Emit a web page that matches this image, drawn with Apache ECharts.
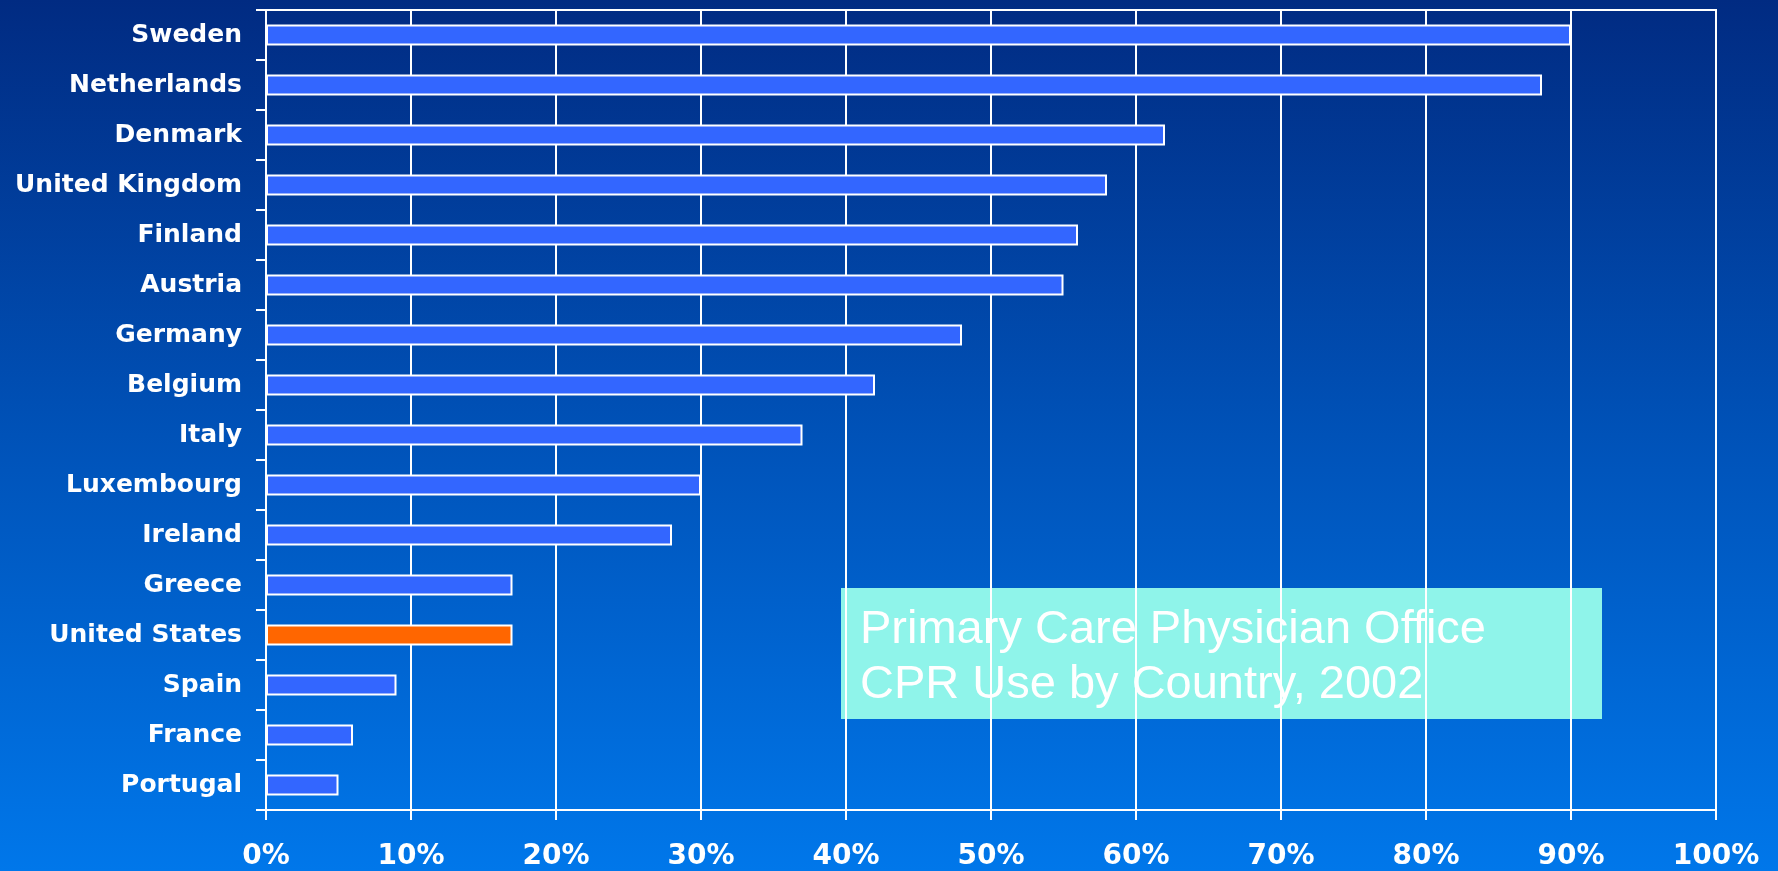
<!DOCTYPE html>
<html><head><meta charset="utf-8">
<script src="https://cdn.jsdelivr.net/npm/echarts@6/dist/echarts.min.js"></script>
<style>html,body{margin:0;padding:0;width:1778px;height:871px;overflow:hidden}#c{width:1778px;height:871px}</style>
</head><body><div id="c"></div>
<script>
const countries = ['Sweden','Netherlands','Denmark','United Kingdom','Finland','Austria','Germany','Belgium','Italy','Luxembourg','Ireland','Greece','United States','Spain','France','Portugal'];
const values = [90,88,62,58,56,55,48,42,37,30,28,17,17,9,6,5];
const highlighted = ['United States'];
const xMin = 0, xMax = 100, xStep = 10;
const titleLines = ['Primary Care Physician Office', 'CPR Use by Country, 2002'];

const chart = echarts.init(document.getElementById('c'));
const labelFont = "'DejaVu Sans', Verdana, sans-serif";
chart.setOption({
  backgroundColor: {type:'linear', x:0, y:0, x2:0, y2:1, colorStops:[{offset:0,color:'#012b82'},{offset:0.5,color:'#0052b8'},{offset:1,color:'#0077ea'}]},
  animation: false,
  grid: {left: 266, right: 62, top: 10, bottom: 60, show: true, borderColor: '#ffffff', borderWidth: 2, backgroundColor: 'transparent'},
  xAxis: {
    type: 'value', min: xMin, max: xMax, interval: xStep,
    axisLine: {show: true, lineStyle: {color: '#fff', width: 2}},
    axisTick: {show: true, length: 10, lineStyle: {color: '#fff', width: 2}},
    splitLine: {show: true, lineStyle: {color: '#fff', width: 2}},
    axisLabel: {color: '#fff', fontWeight: 'bold', fontSize: 28, fontFamily: labelFont, margin: 33, formatter: '{value}%'}
  },
  yAxis: {
    type: 'category', data: countries, inverse: true,
    axisLine: {show: true, lineStyle: {color: '#fff', width: 2}},
    axisTick: {show: true, length: 10, alignWithLabel: false, lineStyle: {color: '#fff', width: 2}},
    axisLabel: {color: '#fff', fontWeight: 'bold', fontSize: 25, fontFamily: labelFont, margin: 24}
  },
  series: [{
    type: 'bar', barWidth: 21,
    data: values.map((v, i) => ({value: v, itemStyle: {color: highlighted.includes(countries[i]) ? '#ff6600' : '#3366ff'}})),
    itemStyle: {borderColor: '#ffffff', borderWidth: 2}
  }],
  graphic: [{
    type: 'group', left: 841, top: 588,
    children: [
      {type: 'rect', shape: {x: 0, y: 0, width: 761, height: 131}, style: {fill: '#8ff4ea'}},
      {type: 'text', x: 19, y: 15, style: {text: titleLines.join('\n'), fill: '#ffffff', font: "47px 'Liberation Sans', Arial, sans-serif", lineHeight: 55}}
    ]
  }]
});
</script></body></html>
